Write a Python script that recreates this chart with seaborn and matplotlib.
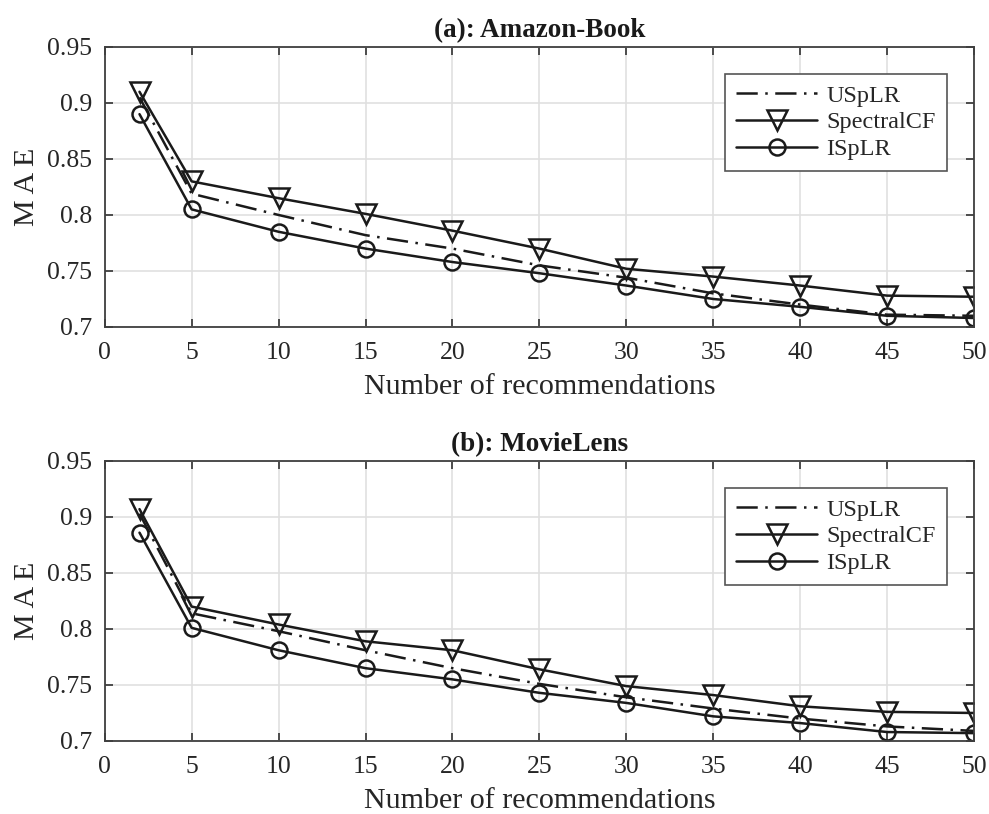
import matplotlib
matplotlib.use("Agg")
import matplotlib.pyplot as plt
import seaborn as sns
import pandas as pd

# Number of recommendations (x-axis)
n_recs = [2, 5, 10, 15, 20, 25, 30, 35, 40, 45, 50]

# MAE values, Amazon-Book
book_usplr = [0.905, 0.819, 0.800, 0.782, 0.770, 0.755, 0.744, 0.730, 0.720, 0.711, 0.710]
book_spectralcf = [0.910, 0.830, 0.815, 0.801, 0.786, 0.770, 0.752, 0.745, 0.737, 0.728, 0.727]
book_isplr = [0.890, 0.805, 0.785, 0.770, 0.758, 0.748, 0.737, 0.725, 0.718, 0.710, 0.708]

# MAE values, MovieLens
movie_usplr = [0.903, 0.814, 0.798, 0.781, 0.765, 0.751, 0.739, 0.729, 0.720, 0.713, 0.709]
movie_spectralcf = [0.907, 0.820, 0.804, 0.789, 0.781, 0.764, 0.749, 0.741, 0.731, 0.726, 0.725]
movie_isplr = [0.886, 0.801, 0.781, 0.765, 0.755, 0.743, 0.734, 0.722, 0.716, 0.708, 0.707]

methods = ["USpLR", "SpectralCF", "ISpLR"]
panel_titles = ["(a): Amazon-Book", "(b): MovieLens"]
x_ticks = [0, 5, 10, 15, 20, 25, 30, 35, 40, 45, 50]
y_ticks = [0.7, 0.75, 0.8, 0.85, 0.9, 0.95]
y_ticklabels = ["0.7", "0.75", "0.8", "0.85", "0.9", "0.95"]

sns.set_theme(style="white")
plt.rcParams["font.family"] = ["Liberation Serif", "DejaVu Serif"]

styles = {
    "USpLR": dict(marker="", linestyle=(0, (8.5, 3.0, 1.0, 3.0))),
    "SpectralCF": dict(marker="v", markersize=14.5, linestyle="-"),
    "ISpLR": dict(marker="o", markersize=11.5, linestyle="-"),
}

fig = plt.figure(figsize=(9.89, 8.14), dpi=100)
ax_top = fig.add_axes([0.1059, 0.5983, 0.8789, 0.3440])
ax_bot = fig.add_axes([0.1059, 0.0897, 0.8789, 0.3440])

datasets = [
    (ax_top, [book_usplr, book_spectralcf, book_isplr]),
    (ax_bot, [movie_usplr, movie_spectralcf, movie_isplr]),
]

ink = "#1a1a1a"
text_color = "#262626"
spine_color = "#3f3f3f"
for (ax, series), title in zip(datasets, panel_titles):
    frames = []
    for name, vals in zip(methods, series):
        frames.append(pd.DataFrame({"recs": n_recs, "mae": vals, "method": name}))
    df = pd.concat(frames, ignore_index=True)
    for name in methods:
        sub = df[df["method"] == name]
        sns.lineplot(data=sub, x="recs", y="mae", ax=ax, color=ink,
                     linewidth=1.8, markerfacecolor="none",
                     markeredgecolor=ink, markeredgewidth=1.8,
                     label=name, **styles[name])
    ax.set_xlim(0, 50)
    ax.set_ylim(0.7, 0.95)
    ax.set_xticks(x_ticks)
    ax.set_xticklabels([str(t) for t in x_ticks])
    ax.set_yticks(y_ticks)
    ax.set_yticklabels(y_ticklabels)
    ax.grid(True, color="#e0e0e0", linewidth=1.2)
    ax.set_axisbelow(True)
    for sp in ax.spines.values():
        sp.set_color(spine_color)
        sp.set_linewidth(1.3)
        sp.set_visible(True)
    ax.tick_params(direction="in", length=6, width=1.3, color=spine_color,
                   labelsize=18.5, labelcolor=text_color, top=True, right=True,
                   bottom=True, left=True)
    ax.tick_params(axis="x", pad=11)
    ax.tick_params(axis="y", pad=9)
    ax.set_xlabel("Number of recommendations", fontsize=21.6, color=text_color, labelpad=7)
    ax.set_ylabel("M A E", fontsize=21.6, color=text_color, labelpad=5)
    ax.set_title(title, fontsize=19.5, fontweight="bold", color=ink, pad=7)
    leg = ax.legend(loc="upper right", bbox_to_anchor=(0.9686, 0.905),
                    fontsize=17.5, handlelength=3.3, handletextpad=0.4,
                    labelspacing=0.2, borderpad=0.45, frameon=True,
                    fancybox=False, framealpha=1.0, borderaxespad=0)
    leg.get_frame().set_edgecolor("#555555")
    leg.get_frame().set_linewidth(1.2)
    for t in leg.get_texts():
        t.set_color(text_color)

fig.savefig("out.png", dpi=100, facecolor="white")
